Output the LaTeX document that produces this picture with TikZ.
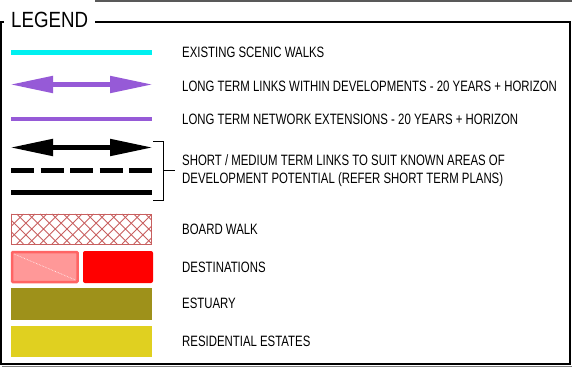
\documentclass[tikz,border=0pt]{standalone}
\usepackage{fontspec}
\setmainfont{Liberation Sans}[FakeStretch=0.76]
\newfontfamily\titlefont{Liberation Sans}[FakeStretch=0.85]
\usetikzlibrary{arrows.meta}
\definecolor{scenic}{RGB}{0,240,240}
\definecolor{longterm}{RGB}{150,90,215}
\definecolor{boardwalk}{RGB}{200,95,95}
\definecolor{destpink}{RGB}{255,152,152}
\definecolor{destedge}{RGB}{255,100,100}
\definecolor{destred}{RGB}{255,0,0}
\definecolor{estuary}{RGB}{158,145,26}
\definecolor{residential}{RGB}{224,208,32}
\tikzset{
  legtext/.style={anchor=west, inner sep=0pt, font=\fontsize{15}{20}\selectfont},
  legline/.style={line width=5pt},
  bigtips/.style={{Triangle[length=43pt,width=16pt]}-{Triangle[length=43pt,width=16pt]}},
}
\begin{document}
\begin{tikzpicture}[x=1pt,y=-1pt]
  \useasboundingbox (0,0) rectangle (572,371);
  % frame
  \draw[gray!70!black, line width=2pt] (95,1) -- (572,1);
  \draw[line width=2.5pt] (95,22) -- (570,22) -- (570,364) -- (1,364) -- (1,22) -- (4,22);
  \draw[gray, line width=1.5pt] (2,366.5) -- (572,366.5);
  \node[anchor=west, inner sep=0pt, font=\titlefont\fontsize{22}{24}\selectfont] (title) at (11,20) {LEGEND};
  % line symbols
  \draw[legline, scenic] (11,52.5) -- (152,52.5);
  \draw[legline, longterm, bigtips] (10,84.5) -- (153,84.5);
  \draw[line width=4pt, longterm] (11,119) -- (152,119);
  \draw[legline, bigtips] (10,147.5) -- (153,147.5);
  \draw[legline, dash pattern=on 23pt off 6.5pt] (11,170.5) -- (152,170.5);
  \draw[legline] (11,192.5) -- (152,192.5);
  \draw[line width=0.8pt] (153,141) -- (163,141) -- (163,200) -- (153,200)
    (163,170.5) -- (175,170.5);
  % area symbols
  \begin{scope}
    \clip (11,214) rectangle (151,244);
    \foreach \x in {-30,-18.3,...,160}
      \draw[boardwalk, line width=0.9pt] (\x,214) -- (\x+30,244) (\x,244) -- (\x+30,214);
  \end{scope}
  \draw[boardwalk, line width=1pt] (11.5,214.5) rectangle (151,244);
  \draw[destedge, fill=destpink, line width=2.5pt, rounded corners=1pt] (12,252) rectangle (77.5,282);
  \draw[white, densely dotted, line width=0.6pt] (14,254) -- (75.5,280);
  \fill[destred, rounded corners=2pt] (83,251) rectangle (153,283);
  \fill[estuary] (11,288) rectangle (152,320);
  \fill[residential] (11,326) rectangle (152,357);
  % texts
  \node[legtext] (scenicwalks) at (182,52.5) {EXISTING SCENIC WALKS};
  \node[legtext] (longlinks) at (182,86) {LONG TERM LINKS WITHIN DEVELOPMENTS - 20 YEARS + HORIZON};
  \node[legtext] (longnetwork) at (182,119.5) {LONG TERM NETWORK EXTENSIONS - 20 YEARS + HORIZON};
  \node[legtext] (shortlinks) at (182,160) {SHORT / MEDIUM TERM LINKS TO SUIT KNOWN AREAS OF};
  \node[legtext] (shortpotential) at (182,180) {DEVELOPMENT POTENTIAL (REFER SHORT TERM PLANS)};
  \node[legtext] (boardwalktext) at (182,229) {BOARD WALK};
  \node[legtext] (destinations) at (182,267) {DESTINATIONS};
  \node[legtext] (estuarytext) at (182,303) {ESTUARY};
  \node[legtext] (residentialtext) at (182,341) {RESIDENTIAL ESTATES};
\end{tikzpicture}
\end{document}
